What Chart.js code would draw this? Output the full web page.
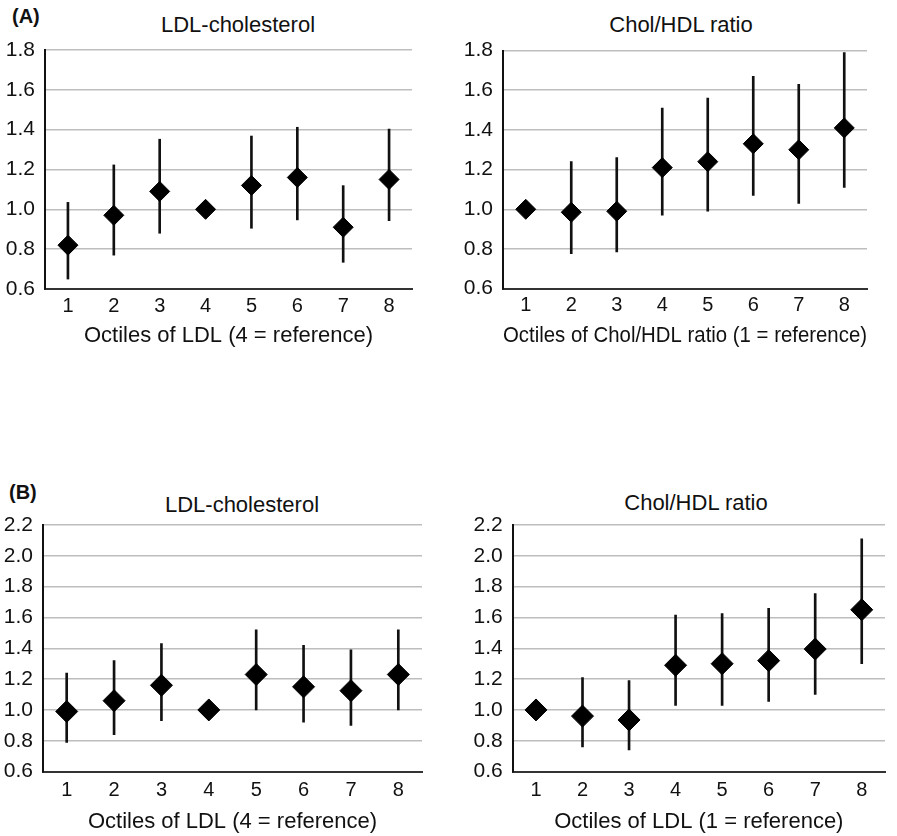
<!DOCTYPE html>
<html>
<head>
<meta charset="utf-8">
<script src="https://cdn.jsdelivr.net/npm/chart.js@4.4.1/dist/chart.umd.min.js"></script>
<style>
  body { margin: 0; background: #fff; }
  #wrap { position: relative; width: 897px; height: 836px; overflow: hidden; font-family: "Liberation Sans", Arial, Helvetica, sans-serif; color: #111; }
  canvas { position: absolute; }
  .ttl { position: absolute; width: 400px; text-align: center; font-size: 22px; line-height: 22px; white-space: nowrap; }
  .tag { position: absolute; font-size: 20px; line-height: 20px; font-weight: bold; }
</style>
</head>
<body>
<div id="wrap">
  <div class="tag" style="left:12px; top:6px;">(A)</div>
  <div class="tag" style="left:9px; top:482px;">(B)</div>
  <div class="ttl" style="left:38px; top:14px;">LDL-cholesterol</div>
  <div class="ttl" style="left:481px; top:14px;">Chol/HDL ratio</div>
  <div class="ttl" style="left:42px; top:494px;">LDL-cholesterol</div>
  <div class="ttl" style="left:496px; top:492px;">Chol/HDL ratio</div>

  <canvas id="aLeft" width="440" height="360" style="left:0; top:0;"></canvas>
  <canvas id="aRight" width="457" height="360" style="left:440px; top:0;"></canvas>
  <canvas id="bLeft" width="440" height="366" style="left:0; top:470px;"></canvas>
  <canvas id="bRight" width="457" height="366" style="left:440px; top:470px;"></canvas>
</div>

<script>
// Octile categories (same for all panels)
const octiles = ['1', '2', '3', '4', '5', '6', '7', '8'];

// Y tick labels
const yTicksA = [0.6, 0.8, 1.0, 1.2, 1.4, 1.6, 1.8];
const yTicksB = [0.6, 0.8, 1.0, 1.2, 1.4, 1.6, 1.8, 2.0, 2.2];

// (A) LDL-cholesterol, octile 4 = reference
const aLdlEst = [0.82, 0.97, 1.09, 1.00, 1.12, 1.16, 0.91, 1.15];
const aLdlLow = [0.65, 0.77, 0.88, null, 0.905, 0.947, 0.734, 0.943];
const aLdlHigh = [1.035, 1.223, 1.352, null, 1.368, 1.412, 1.119, 1.403];

// (A) Chol/HDL ratio, octile 1 = reference
const aRatioEst = [1.00, 0.985, 0.99, 1.21, 1.24, 1.33, 1.30, 1.41];
const aRatioLow = [null, 0.777, 0.785, 0.97, 0.99, 1.07, 1.03, 1.11];
const aRatioHigh = [null, 1.24, 1.26, 1.51, 1.56, 1.67, 1.63, 1.79];

// (B) LDL-cholesterol, octile 4 = reference
const bLdlEst = [0.99, 1.06, 1.16, 1.00, 1.23, 1.15, 1.125, 1.23];
const bLdlLow = [0.79, 0.84, 0.93, null, 1.00, 0.92, 0.90, 1.00];
const bLdlHigh = [1.24, 1.32, 1.43, null, 1.52, 1.42, 1.39, 1.52];

// (B) Chol/HDL ratio, octile 1 = reference
const bRatioEst = [1.00, 0.96, 0.935, 1.29, 1.30, 1.32, 1.395, 1.65];
const bRatioLow = [null, 0.76, 0.74, 1.03, 1.03, 1.055, 1.10, 1.30];
const bRatioHigh = [null, 1.21, 1.19, 1.615, 1.625, 1.66, 1.755, 2.11];

const FONT = '"Liberation Sans", Arial, Helvetica, sans-serif';

function makePanel(id, opt) {
    const ctx = document.getElementById(id).getContext('2d');
    const ci = opt.low.map((lo, i) => (lo === null ? null : [lo, opt.high[i]]));

    return new Chart(ctx, {
        type: 'bar',
        data: {
            labels: octiles,
            datasets: [{
                type: 'line',
                data: opt.est,
                showLine: false,
                pointStyle: 'rectRot',
                pointRadius: opt.radius,
                pointBackgroundColor: '#000',
                pointBorderColor: '#000',
                pointBorderWidth: 1,
                order: 0
            }, {
                type: 'bar',
                data: ci,
                backgroundColor: '#111',
                borderWidth: 0,
                barThickness: 2,
                order: 1
            }]
        },
        options: {
            responsive: false,
            animation: false,
            devicePixelRatio: 1,
            layout: { padding: opt.padding },
            plugins: {
                legend: { display: false },
                tooltip: { enabled: false }
            },
            scales: {
                x: {
                    offset: true,
                    grid: { display: false, drawTicks: false },
                    border: { display: true, color: '#333', width: 2 },
                    ticks: { color: '#111', padding: opt.xPad, font: { family: FONT, size: 20 } },
                    title: {
                        display: true,
                        text: opt.xTitle,
                        color: '#111',
                        padding: 0,
                        font: { family: FONT, size: 22 }
                    },
                    afterFit: scale => { scale.height = opt.xHeight; }
                },
                y: {
                    min: opt.yTicks[0],
                    max: opt.yTicks[opt.yTicks.length - 1],
                    afterBuildTicks: scale => {
                        scale.ticks = opt.yTicks.map(v => ({ value: v }));
                    },
                    grid: { color: '#bdbdbd', lineWidth: 1.5, drawTicks: false },
                    border: { display: true, color: '#111', width: 2 },
                    ticks: {
                        color: '#111',
                        padding: 10,
                        font: { family: FONT, size: 21 },
                        callback: v => Number(v).toFixed(1)
                    },
                    afterFit: scale => { scale.width = opt.yWidth; }
                }
            }
        }
    });
}

makePanel('aLeft', {
    est: aLdlEst, low: aLdlLow, high: aLdlHigh,
    yTicks: yTicksA, xTitle: 'Octiles of LDL (4 = reference)',
    padding: { top: 50, right: 28, bottom: 11, left: 0 },
    yWidth: 45, xHeight: 60, xPad: 5, radius: 10
});

makePanel('aRight', {
    est: aRatioEst, low: aRatioLow, high: aRatioHigh,
    yTicks: yTicksA, xTitle: 'Octiles of Chol/HDL ratio (1 = reference)',
    padding: { top: 50.5, right: 30, bottom: 11.3, left: 0 },
    yWidth: 63, xHeight: 60, xPad: 5, radius: 10
});

makePanel('bLeft', {
    est: bLdlEst, low: bLdlLow, high: bLdlHigh,
    yTicks: yTicksB, xTitle: 'Octiles of LDL (4 = reference)',
    padding: { top: 55, right: 18, bottom: 1, left: 0 },
    yWidth: 43, xHeight: 63.4, xPad: 7, radius: 11
});

makePanel('bRight', {
    est: bRatioEst, low: bRatioLow, high: bRatioHigh,
    yTicks: yTicksB, xTitle: 'Octiles of LDL (1 = reference)',
    padding: { top: 55, right: 1, bottom: 1, left: 0 },
    yWidth: 72.7, xHeight: 63.4, xPad: 7, radius: 11
});
</script>
</body>
</html>
